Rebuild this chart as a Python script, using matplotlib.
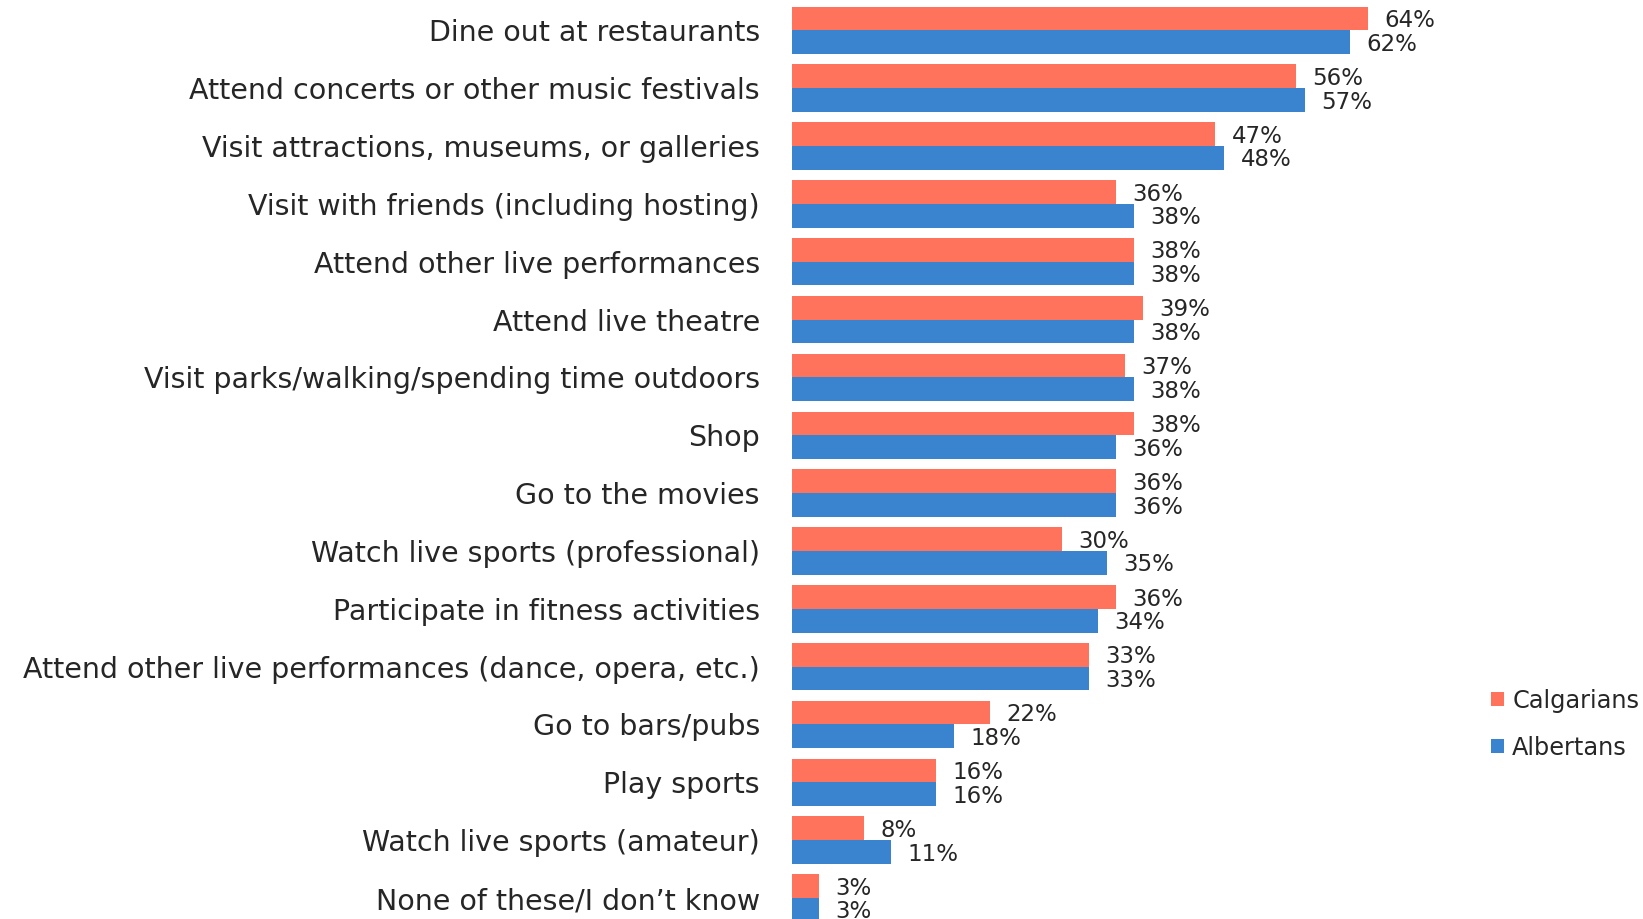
import matplotlib
matplotlib.use("Agg")
import matplotlib.pyplot as plt
import numpy as np

categories = [
    "Dine out at restaurants",
    "Attend concerts or other music festivals",
    "Visit attractions, museums, or galleries",
    "Visit with friends (including hosting)",
    "Attend other live performances",
    "Attend live theatre",
    "Visit parks/walking/spending time outdoors",
    "Shop",
    "Go to the movies",
    "Watch live sports (professional)",
    "Participate in fitness activities",
    "Attend other live performances (dance, opera, etc.)",
    "Go to bars/pubs",
    "Play sports",
    "Watch live sports (amateur)",
    "None of these/I don\u2019t know",
]
calgarians = [64, 56, 47, 36, 38, 39, 37, 38, 36, 30, 36, 33, 22, 16, 8, 3]
albertans = [62, 57, 48, 38, 38, 38, 38, 36, 36, 35, 34, 33, 18, 16, 11, 3]
series_names = ["Calgarians", "Albertans"]
colors = ["#FF735C", "#3A84CF"]

plt.rcParams['font.family'] = ['DejaVu Sans']
text_color = "#262626"

fig = plt.figure(figsize=(16.43, 9.19), dpi=100)
ax = fig.add_axes([0.482, 0.0, 0.378, 1.0])

y = np.arange(len(categories))
h = 0.41
b1 = ax.barh(y - h / 2, calgarians, height=h, color=colors[0], label=series_names[0])
b2 = ax.barh(y + h / 2, albertans, height=h, color=colors[1], label=series_names[1])

for bars, vals in ((b1, calgarians), (b2, albertans)):
    for bar, v in zip(bars, vals):
        ax.annotate(f"{v}%", (bar.get_width(), bar.get_y() + bar.get_height() / 2),
                    xytext=(12, -1.5), textcoords="offset points", ha="left", va="center",
                    fontsize=16.5, color=text_color)

ax.set_xlim(0, 69)
ax.set_ylim(15.363, -0.525)
ax.set_yticks(y)
ax.set_yticklabels(categories, fontsize=20.5, color=text_color)
ax.tick_params(axis="y", length=0, pad=23)
ax.set_xticks([])
for s in ax.spines.values():
    s.set_visible(False)

fig.legend(handles=[b1, b2], labels=series_names, loc="center left",
           bbox_to_anchor=(0.8945, 0.212), frameon=False, fontsize=17.3,
           handlelength=0.52, handleheight=0.52, handletextpad=0.35,
           labelspacing=0.95, labelcolor=text_color)

fig.savefig("out.png", dpi=100)
